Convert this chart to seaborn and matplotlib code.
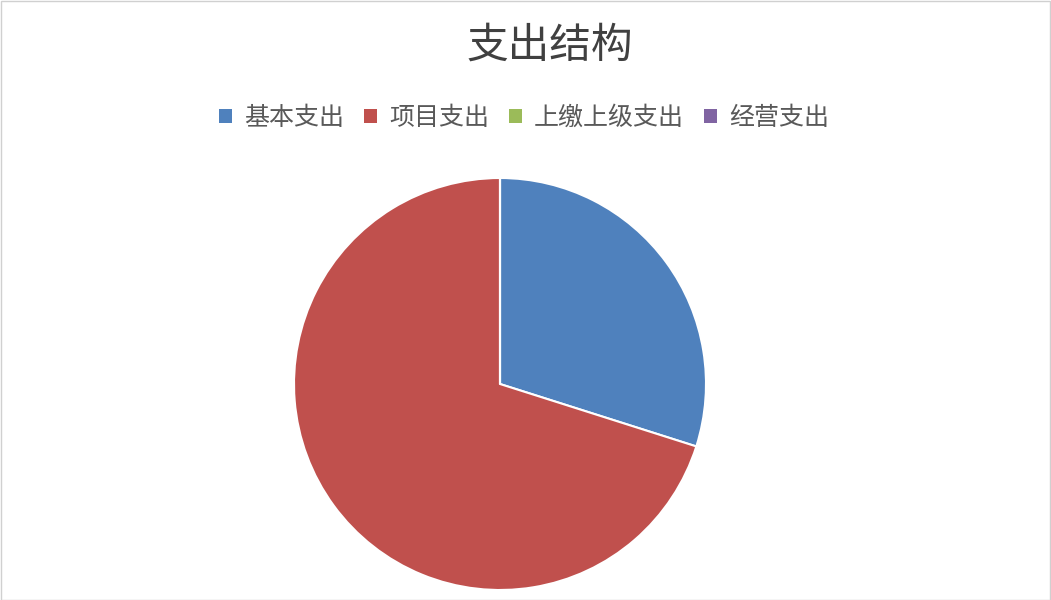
import matplotlib
matplotlib.use("Agg")
import matplotlib.pyplot as plt
import matplotlib.patches as mpatches
import seaborn as sns

# data
categories = ["基本支出", "项目支出", "上缴上级支出", "经营支出"]
values = [29.9, 70.1, 0.0, 0.0]
colors = ["#4F81BD", "#C0504D", "#9BBB59", "#8064A2"]

sns.set_theme(style="white")
plt.rcParams['font.family'] = ['Noto Sans CJK SC', 'DejaVu Sans']

fig = plt.figure(figsize=(10.51, 6), dpi=100)
fig.patch.set_facecolor("white")

# pie axes placed to match reference
r_w = 206 / 1051
r_h = 206 / 600
cx, cy = 500 / 1051, 1 - 384 / 600
ax = fig.add_axes([cx - r_w, cy - r_h, 2 * r_w, 2 * r_h])
ax.pie(values, colors=colors, startangle=90, counterclock=False,
       wedgeprops=dict(edgecolor="white", linewidth=1.5), radius=1.0)
ax.set_xlim(-1, 1)
ax.set_ylim(-1, 1)
ax.set_aspect("equal")
ax.axis("off")

fig.text(550 / 1051, 1 - 46 / 600, "支出结构", ha="center", va="center",
         fontsize=30, color="#404040")

handles = [mpatches.Patch(facecolor=c, edgecolor="none", label=l)
           for c, l in zip(colors, categories)]
fig.legend(handles=handles, loc="center", bbox_to_anchor=(524 / 1051, 1 - 118 / 600),
           ncol=4, frameon=False, fontsize=18, handlelength=0.5, handleheight=0.5,
           handletextpad=0.5, columnspacing=0.8, labelcolor="#595959")

# thin grey border like the reference
border = mpatches.Rectangle((0.0005, 0.0008), 0.999, 0.998, transform=fig.transFigure,
                            fill=False, edgecolor="#D0D0D0", linewidth=1)
fig.patches.append(border)

fig.savefig("out.png", dpi=100)
